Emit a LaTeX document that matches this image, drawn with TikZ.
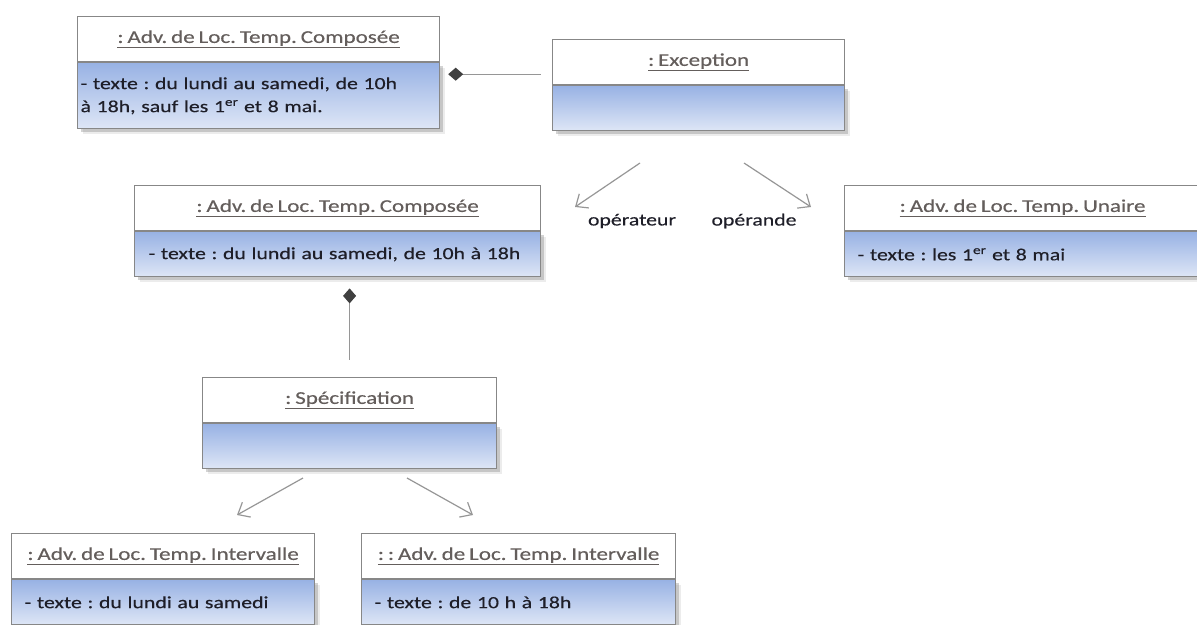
\documentclass[tikz,border=0pt]{standalone}
\usepackage{fontspec}
\setmainfont[FakeStretch=1.28,WordSpace=0.75,FakeBold=0.4]{Carlito}
\usepackage{xcolor}
\usepackage{tikz}
\usetikzlibrary{arrows.meta,shadows}
\definecolor{frame}{RGB}{135,135,135}
\definecolor{bodytop}{RGB}{152,178,228}
\definecolor{bodybot}{RGB}{222,230,246}
\definecolor{hdtext}{RGB}{100,94,92}
\definecolor{bodytext}{RGB}{30,30,40}
\definecolor{link}{RGB}{150,150,150}
\definecolor{dia}{RGB}{64,64,64}
\newcommand\objname[1]{\underline{#1}}
\frenchspacing

\begin{document}
\begin{tikzpicture}[x=1pt,y=-1pt,every node/.style={font=\fontsize{17}{23}\selectfont},
          hd/.style={draw=frame,fill=white,line width=1.2pt,minimum height=45,anchor=north west,inner sep=0pt,text=hdtext,
            font=\fontsize{18}{23}\selectfont},
          bd/.style={draw=frame,line width=1.2pt,top color=bodytop,bottom color=bodybot,minimum height=45,anchor=north west,
            align=left,inner xsep=13pt,inner ysep=0pt,text=bodytext,
            drop shadow={shadow xshift=3pt,shadow yshift=-3pt,opacity=.35},
            drop shadow={shadow xshift=5pt,shadow yshift=-5pt,opacity=.15}},
          compo/.style={link,line width=1.2pt,{Diamond[length=15pt,width=13pt,color=dia]}-},
          assoc/.style={link,line width=1.2pt,-{Straight Barb[length=10pt,width=17pt]}}]
        \useasboundingbox (0,0) rectangle (1197,624);
        \clip (0,0) rectangle (1197,624);
        % objets
        \node[hd,minimum width=362] (c1) at (77,16) {\objname{: Adv. de Loc. Temp. Composée}};
        \node[bd,inner xsep=3pt,text width=356,minimum height=66] (c1b) at (c1.south west) {- texte : du lundi au samedi, de 10h\\ à 18h, sauf les 1\textsuperscript{er} et 8 mai.};
        \node[hd,minimum width=292] (exc) at (552,39) {\objname{: Exception}};
        \node[bd,text width=266] (excb) at (exc.south west) {};
        \node[hd,minimum width=406] (c2) at (134,185) {\objname{: Adv. de Loc. Temp. Composée}};
        \node[bd,inner xsep=14pt,text width=378] (c2b) at (c2.south west) {- texte : du lundi au samedi, de 10h à 18h};
        \node[hd,minimum width=356] (un) at (844,185) {\objname{: Adv. de Loc. Temp. Unaire}};
        \node[bd,text width=330] (unb) at (un.south west) {- texte : les 1\textsuperscript{er} et 8 mai};
        \node[hd,minimum width=294] (spec) at (202,377) {\objname{: Spécification}};
        \node[bd,text width=268] (specb) at (spec.south west) {};
        \node[hd,minimum width=303] (intA) at (11,533) {\objname{: Adv. de Loc. Temp. Intervalle}};
        \node[bd,text width=277] (intAb) at (intA.south west) {- texte : du lundi au samedi};
        \node[hd,minimum width=314] (intB) at (361,533) {\objname{: : Adv. de Loc. Temp. Intervalle}};
        \node[bd,text width=288] (intBb) at (intB.south west) {- texte : de 10 h à 18h};
        % liens
        \draw[compo,shorten <=8pt,shorten >=11pt] ([yshift=-12pt]c1b.north east) -- ([yshift=-12pt]c1b.north east -| exc.west);
        \draw[compo,shorten <=11pt,shorten >=17pt] (c2b.south -| spec.north) -- (spec.north);
        \coordinate (excL) at (640,163);
        \coordinate (excR) at (744,163);
        \coordinate (opr) at (575,207);
        \coordinate (opd) at (811,207);
        \coordinate (specL) at (303,478);
        \coordinate (specR) at (407,478);
        \coordinate (toA) at (237,515);
        \coordinate (toB) at (473,515);
        \foreach \a/\b in {excL/opr,excR/opd,specL/toA,specR/toB}
          \draw[assoc] (\a)--(\b);
        \node[text=bodytext] (oprlab) at (632,221) {opérateur};
        \node[text=bodytext] (opdlab) at (754,221) {opérande};
      \end{tikzpicture}
\end{document}
